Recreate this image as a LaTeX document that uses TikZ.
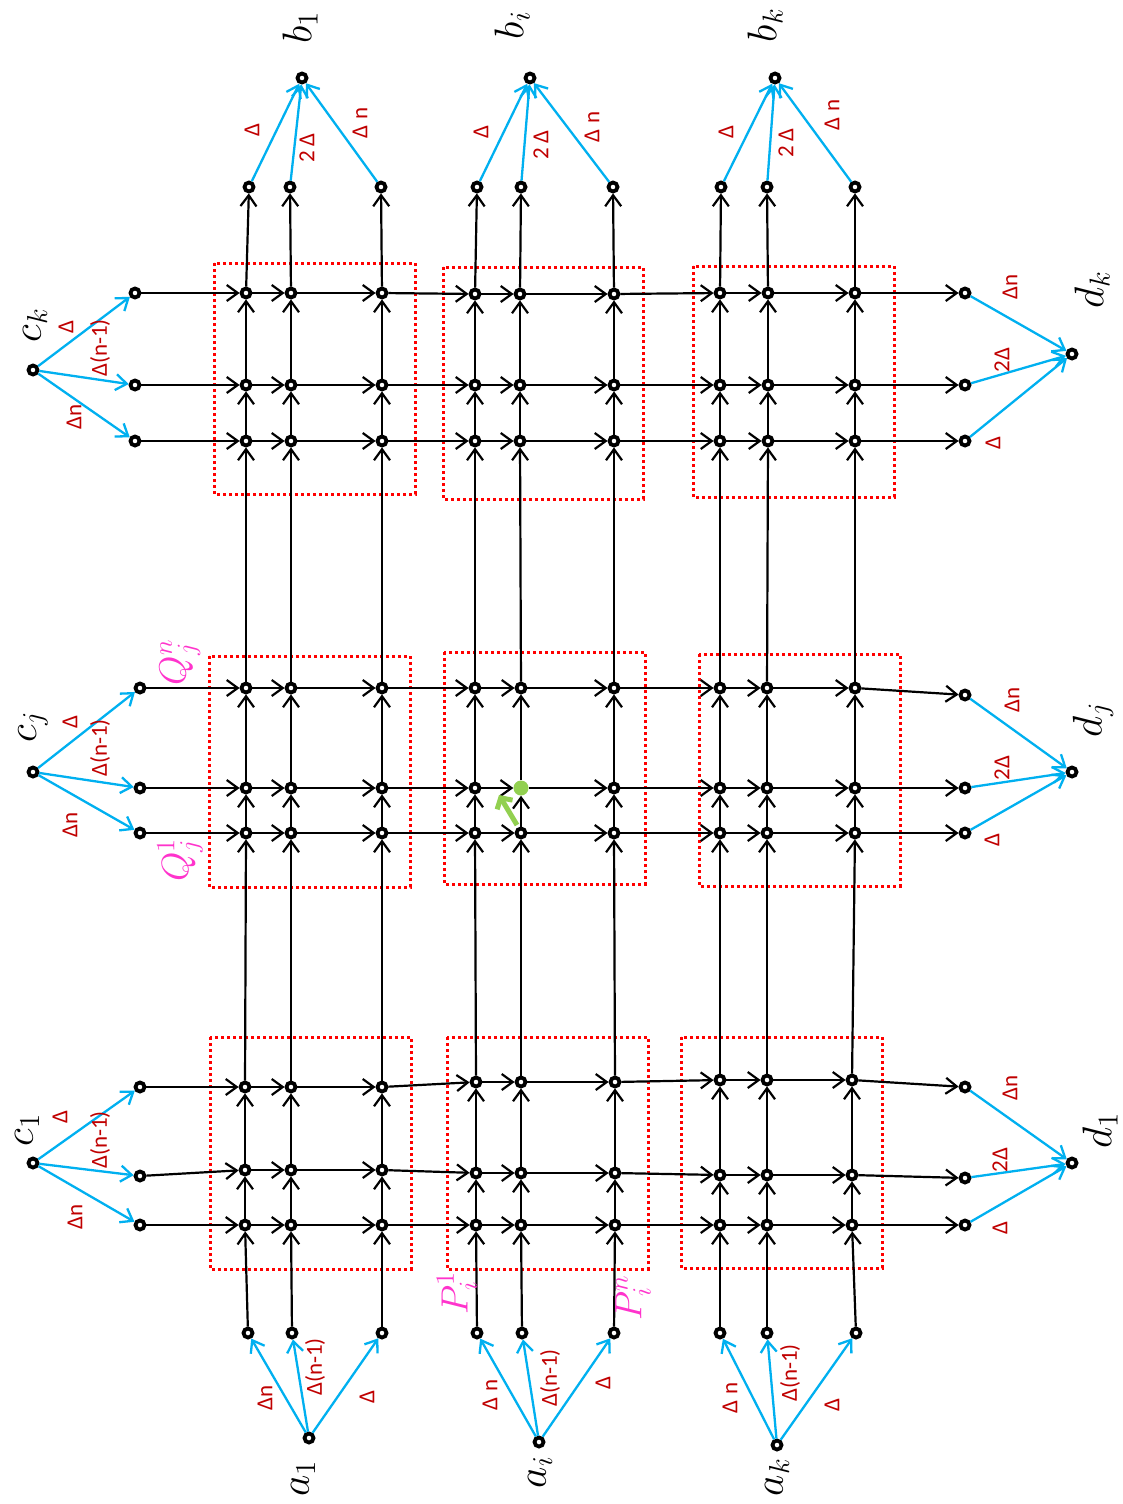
\documentclass[tikz,border=0pt]{standalone}
\usepackage{fontspec}
\newfontfamily\lblfont{Carlito}
\usetikzlibrary{arrows.meta}
\definecolor{myblue}{HTML}{00B0F0}
\definecolor{myred}{HTML}{C00000}
\definecolor{boxred}{HTML}{FF0000}
\definecolor{mypink}{HTML}{FF33CC}
\definecolor{mygreen}{HTML}{92D050}
\def\XA{{246,291,382,475,520,614,720,768,855}}
\def\XB{{246,291,382,475,521,614,720,767,855}}
\def\XC{{245,291,382,476,521,615,720,767,852}}
\def\YA{{293,385,441,688,788,833,1087,1170,1225}}
\def\YB{{294,385,441,688,788,833,1082,1173,1225}}
\def\YC{{293,385,441,688,788,833,1080,1175,1225}}
\begin{document}
\begin{tikzpicture}[x=1pt,y=-1pt,
  dot/.style={circle,draw=black,line width=3.8pt,fill=white,inner sep=0pt,minimum size=9pt},
  gdot/.style={circle,fill=mygreen,inner sep=0pt,minimum size=15pt},
  arr/.style={draw=black,line width=2.2pt,-{Straight Barb[length=11pt,width=16pt]}},
  barr/.style={draw=myblue,line width=2.3pt,-{Straight Barb[length=11pt,width=16pt]}},
  garr/.style={draw=mygreen,line width=5pt,-{Straight Barb[length=8pt,width=18pt]}},
  lbl/.style={text=myred,font=\lblfont\fontsize{23}{23}\selectfont,rotate=90,inner sep=0pt},
  mlbl/.style={font=\fontsize{17.28}{17.28}\selectfont,scale=2.4,rotate=90,inner sep=0pt},
  plbl/.style={text=mypink,font=\fontsize{17.28}{17.28}\selectfont,scale=2.2,rotate=90,inner sep=0pt},
  dbox/.style={draw=boxred,line width=3pt,dash pattern=on 3pt off 3pt}
]
\useasboundingbox[fill=white] (0,0) rectangle (1123,1504);

% dotted boxes
\draw[dbox] (214,263) rectangle (415,494);
\draw[dbox] (443,267) rectangle (643,499);
\draw[dbox] (693,266) rectangle (894,497);
\draw[dbox] (209,656) rectangle (410,887);
\draw[dbox] (444,652) rectangle (645,884);
\draw[dbox] (699,654) rectangle (900,886);
\draw[dbox] (210,1037) rectangle (411,1269);
\draw[dbox] (447,1037) rectangle (648,1269);
\draw[dbox] (681,1037) rectangle (882,1268);

% grid nodes
\foreach \c in {1,...,9}{
  \foreach \r in {1,...,9}{
    \pgfmathtruncatemacro\rg{(\r-1)/3}
    \pgfmathtruncatemacro\cg{(\c-1)/3}
    \ifcase\rg \pgfmathsetmacro\xx{\XA[\c-1]}\or \pgfmathsetmacro\xx{\XB[\c-1]}\else \pgfmathsetmacro\xx{\XC[\c-1]}\fi
    \ifcase\cg \pgfmathsetmacro\yy{\YA[\r-1]}\or \pgfmathsetmacro\yy{\YB[\r-1]}\else \pgfmathsetmacro\yy{\YC[\r-1]}\fi
    \node[dot] (n-\c-\r) at (\xx,\yy) {};
  }
}
\node[gdot] (n-5-5) at (n-5-5.center) {};

% outer circles
\foreach \r/\x/\y in {1/135/293,2/135/385,3/135/441,4/140/688,5/140/788,6/140/833,7/140/1087,8/140/1176,9/140/1225}
  \node[dot] (L-\r) at (\x,\y) {};
\foreach \r/\y in {1/293,2/385,3/441,4/695,5/788,6/833,7/1087,8/1178,9/1225}
  \node[dot] (R-\r) at (965,\y) {};
\foreach \c/\x in {1/249,2/290,3/381,4/477,5/521,6/613,7/721,8/767,9/855}
  \node[dot] (T-\c) at (\x,187) {};
\foreach \c/\x in {1/248,2/292,3/382,4/477,5/522,6/614,7/720,8/767,9/856}
  \node[dot] (B-\c) at (\x,1333) {};

% terminal nodes
\node[dot] (b1) at (302,78) {};
\node[dot] (bI) at (530,78) {};
\node[dot] (bK) at (775,78) {};
\node[dot] (a1) at (309,1438) {};
\node[dot] (aI) at (539,1442) {};
\node[dot] (aK) at (777,1445) {};
\node[dot] (cK) at (33,370) {};
\node[dot] (cJ) at (33,772) {};
\node[dot] (c1) at (33,1163) {};
\node[dot] (dK) at (1072,354) {};
\node[dot] (dJ) at (1072,772) {};
\node[dot] (d1) at (1072,1163) {};

% black grid edges
\foreach \r in {1,...,9}{
  \draw[arr] (L-\r) -- (n-1-\r);
  \foreach \c in {1,...,8}{
    \pgfmathtruncatemacro\cn{\c+1}
    \draw[arr] (n-\c-\r) -- (n-\cn-\r);
  }
  \draw[arr] (n-9-\r) -- (R-\r);
}
\foreach \c in {1,...,9}{
  \draw[arr] (B-\c) -- (n-\c-9);
  \foreach \r in {9,...,2}{
    \pgfmathtruncatemacro\rn{\r-1}
    \draw[arr] (n-\c-\r) -- (n-\c-\rn);
  }
  \draw[arr] (n-\c-1) -- (T-\c);
}

% blue edges
\foreach \s/\r in {cK/1,cK/2,cK/3,cJ/4,cJ/5,cJ/6,c1/7,c1/8,c1/9}
  \draw[barr] (\s) -- (L-\r);
\foreach \r/\t in {1/dK,2/dK,3/dK,4/dJ,5/dJ,6/dJ,7/d1,8/d1,9/d1}
  \draw[barr] (R-\r) -- (\t);
\foreach \c/\t in {1/b1,2/b1,3/b1,4/bI,5/bI,6/bI,7/bK,8/bK,9/bK}
  \draw[barr] (T-\c) -- (\t);
\foreach \s/\c in {a1/1,a1/2,a1/3,aI/4,aI/5,aI/6,aK/7,aK/8,aK/9}
  \draw[barr] (\s) -- (B-\c);

% green arrow
\coordinate (g1) at (517,825);
\coordinate (g2) at (499,795);
\draw[garr] (g1) -- (g2);

% red delta labels
\node[lbl] (lck1) at (66,327) {Δ};
\node[lbl] (lck2) at (100,348) {Δ(n-1)};
\node[lbl] (lck3) at (74,417) {Δn};
\node[lbl] (lcj1) at (70,722) {Δ};
\node[lbl] (lcj2) at (100,748) {Δ(n-1)};
\node[lbl] (lcj3) at (70,825) {Δn};
\node[lbl] (lc11) at (60,1117) {Δ};
\node[lbl] (lc12) at (100,1140) {Δ(n-1)};
\node[lbl] (lc13) at (75,1217) {Δn};

\node[lbl] (lb11) at (252,130) {Δ};
\node[lbl] (lb12) at (307,148) {2 Δ};
\node[lbl] (lb13) at (360,123) {Δ n};
\node[lbl] (lbi1) at (481,132) {Δ};
\node[lbl] (lbi2) at (541,145) {2 Δ};
\node[lbl] (lbi3) at (592,127) {Δ n};
\node[lbl] (lbk1) at (726,132) {Δ};
\node[lbl] (lbk2) at (786,143) {2 Δ};
\node[lbl] (lbk3) at (832,115) {Δ n};

\node[lbl] (ldk1) at (1010,287) {Δn};
\node[lbl] (ldk2) at (1002,360) {2Δ};
\node[lbl] (ldk3) at (993,443) {Δ};
\node[lbl] (ldj1) at (1012,700) {Δn};
\node[lbl] (ldj2) at (1002,768) {2Δ};
\node[lbl] (ldj3) at (992,840) {Δ};
\node[lbl] (ld11) at (1010,1088) {Δn};
\node[lbl] (ld12) at (1000,1160) {2Δ};
\node[lbl] (ld13) at (1000,1228) {Δ};

\node[lbl] (la11) at (265,1398) {Δn};
\node[lbl] (la12) at (315,1367) {Δ(n-1)};
\node[lbl] (la13) at (367,1397) {Δ};
\node[lbl] (lai1) at (490,1395) {Δ n};
\node[lbl] (lai2) at (550,1378) {Δ(n-1)};
\node[lbl] (lai3) at (603,1383) {Δ};
\node[lbl] (lak1) at (730,1398) {Δ n};
\node[lbl] (lak2) at (790,1373) {Δ(n-1)};
\node[lbl] (lak3) at (832,1405) {Δ};

% math labels
\node[mlbl] (tb1) at (300,27) {$b_1$};
\node[mlbl] (tbI) at (512,25) {$b_i$};
\node[mlbl] (tbK) at (765,25) {$b_k$};
\node[mlbl] (ta1) at (303,1478) {$a_1$};
\node[mlbl] (taI) at (540,1472) {$a_i$};
\node[mlbl] (taK) at (777,1477) {$a_k$};
\node[mlbl] (tcK) at (35,325) {$c_k$};
\node[mlbl] (tcJ) at (33,727) {$c_j$};
\node[mlbl] (tc1) at (27,1130) {$c_1$};
\node[mlbl] (tdK) at (1092,290) {$d_k$};
\node[mlbl] (tdJ) at (1093,720) {$d_j$};
\node[mlbl] (td1) at (1100,1130) {$d_1$};

% pink labels
\node[plbl] (pQn) at (180,662) {$Q_j^n$};
\node[plbl] (pQ1) at (180,860) {$Q_j^1$};
\node[plbl] (pP1) at (457,1293) {$P_i^1$};
\node[plbl] (pPn) at (633,1298) {$P_i^n$};
\end{tikzpicture}
\end{document}
